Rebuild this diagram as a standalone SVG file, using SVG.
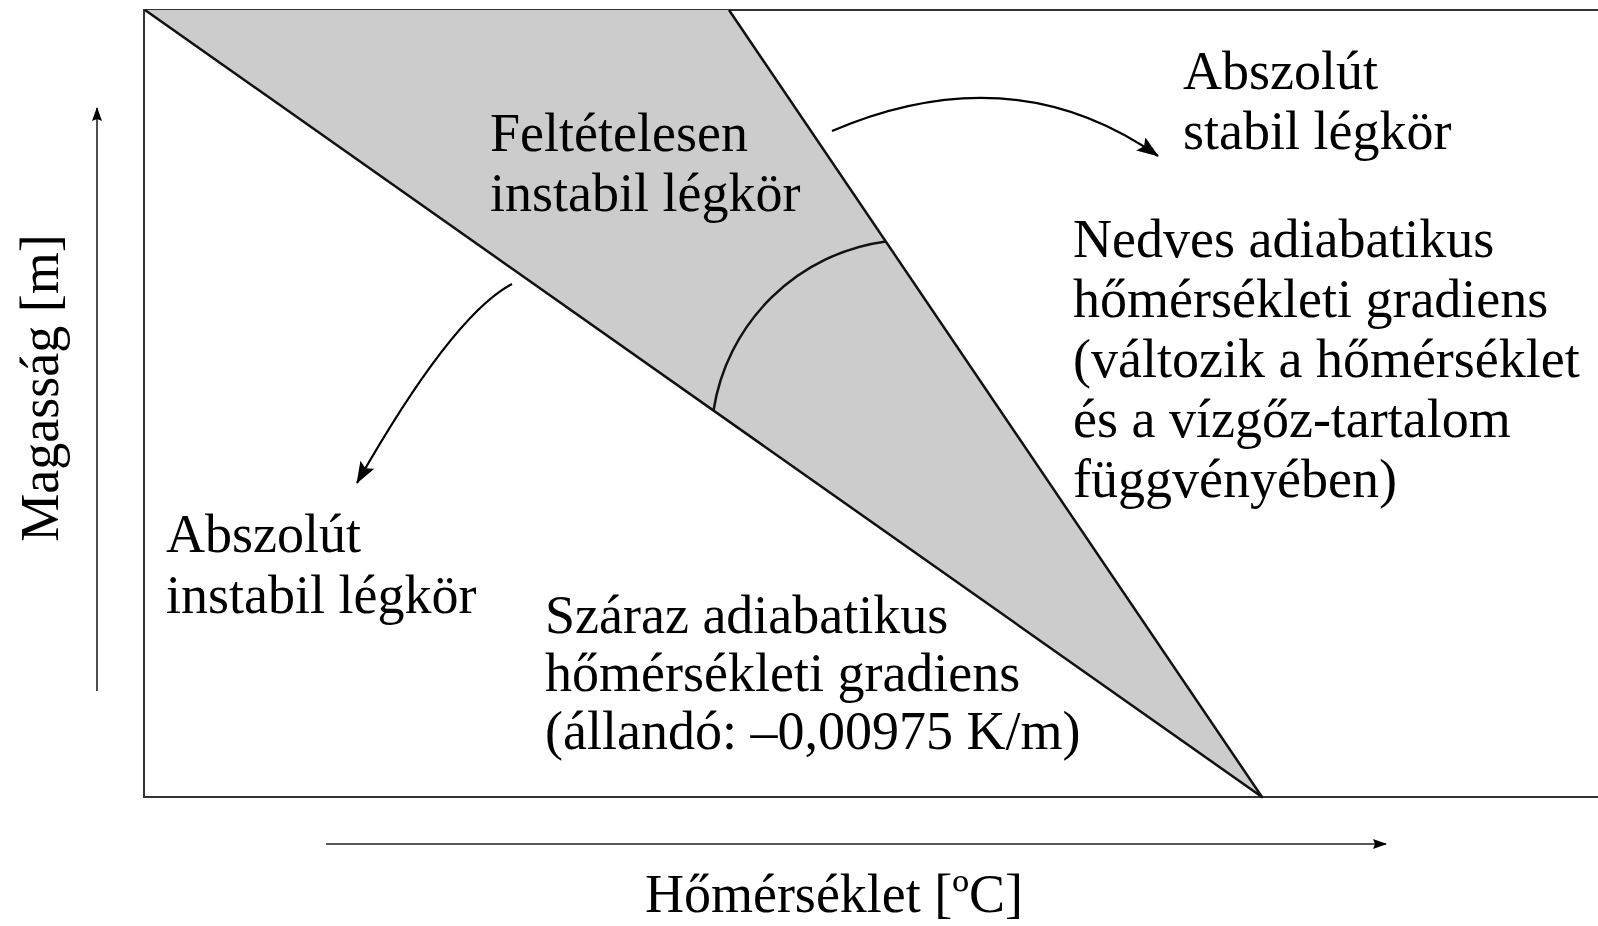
<svg xmlns="http://www.w3.org/2000/svg" width="1598" height="926" viewBox="0 0 1598 926">
<style>
.t{font-family:"Liberation Serif","Times New Roman",serif;font-size:54px;fill:#000}
.frame{fill:none;stroke:#333;stroke-width:2}
.edge{fill:none;stroke:#111;stroke-width:2.5;stroke-linejoin:round}
.conn{fill:none;stroke:#000;stroke-width:2.2}
.axis{fill:none;stroke:#222;stroke-width:1.6}
</style>
<defs>
<marker id="big" viewBox="0 0 22 16" refX="21" refY="8" markerWidth="22" markerHeight="16" markerUnits="userSpaceOnUse" orient="auto">
<path d="M0,0 L22,8 L0,16 L4,8 z" fill="#000"/>
</marker>
<marker id="small" viewBox="0 0 14 10" refX="13" refY="5" markerWidth="14" markerHeight="10" markerUnits="userSpaceOnUse" orient="auto">
<path d="M0,0 L14,5 L0,10 L2,5 z" fill="#000"/>
</marker>
</defs>
<rect width="1598" height="926" fill="#fff"/>
<g id="frame">
<path class="frame" d="M1600,10 L144,10 L144,797 L1600,797"/>
</g>
<g id="wedge">
<path d="M145,10 L729,10 L1262,797 Z" fill="#cccccc"/>
<path class="edge" d="M145,10 L1262,797 L729,10"/>
<path class="edge" d="M713.5,410.5 A202,202 0 0 1 885.7,241.4" stroke-width="2"/>
</g>
<g id="axes">
<path class="axis" d="M326,844 L1386,844" marker-end="url(#small)"/>
<path class="axis" d="M97,691 L97,108" marker-end="url(#small)"/>
</g>
<g id="connectors">
<path class="conn" d="M832,131 Q1012,54 1158,156" marker-end="url(#big)"/>
<path class="conn" d="M512,284 Q452,316 357,483" marker-end="url(#big)"/>
</g>
<g id="label-conditional">
<text class="t" x="490" y="151">Feltételesen</text>
<text class="t" x="490" y="211">instabil légkör</text>
</g>
<g id="label-stable">
<text class="t" x="1183" y="89">Abszolút</text>
<text class="t" x="1183" y="149">stabil légkör</text>
</g>
<g id="label-moist">
<text class="t" x="1073" y="257">Nedves adiabatikus</text>
<text class="t" x="1073" y="317">hőmérsékleti gradiens</text>
<text class="t" x="1073" y="377">(változik a hőmérséklet</text>
<text class="t" x="1073" y="437">és a vízgőz-tartalom</text>
<text class="t" x="1073" y="497">függvényében)</text>
</g>
<g id="label-unstable">
<text class="t" x="166" y="552">Abszolút</text>
<text class="t" x="166" y="613">instabil légkör</text>
</g>
<g id="label-dry">
<text class="t" x="545" y="633">Száraz adiabatikus</text>
<text class="t" x="545" y="691">hőmérsékleti gradiens</text>
<text class="t" x="545" y="749">(állandó: –0,00975 K/m)</text>
</g>
<g id="label-x">
<text class="t" x="834" y="912" text-anchor="middle">Hőmérséklet [ºC]</text>
</g>
<g id="label-y">
<text class="t" transform="translate(58,388) rotate(-90)" text-anchor="middle">Magasság [m]</text>
</g>
</svg>
